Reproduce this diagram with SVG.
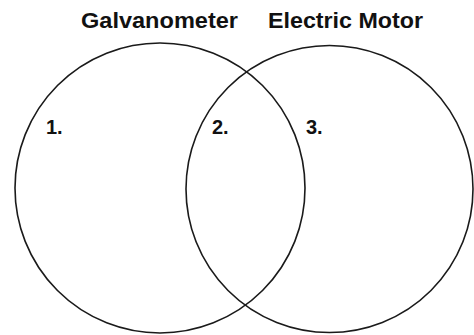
<svg xmlns="http://www.w3.org/2000/svg" width="474" height="335" viewBox="0 0 474 335">
<style>
.c{fill:none;stroke:#1a1a1a;stroke-width:1.6}
.t{font-family:"Liberation Sans",Arial,sans-serif;font-weight:bold;fill:#111}
.h{font-size:22px}
.n{font-size:20px}
</style>
<rect width="474" height="335" fill="#fff"/>
<g id="galvanometer">
<circle class="c" cx="160" cy="188" r="145"/>
<text class="t h" x="81" y="28" textLength="157" lengthAdjust="spacingAndGlyphs">Galvanometer</text>
<text class="t n" x="46" y="134">1.</text>
</g>
<g id="electric-motor">
<circle class="c" cx="329.5" cy="189" r="143.5"/>
<text class="t h" x="268" y="28" textLength="155" lengthAdjust="spacingAndGlyphs">Electric Motor</text>
<text class="t n" x="306" y="134">3.</text>
</g>
<g id="overlap">
<text class="t n" x="212" y="134">2.</text>
</g>
</svg>
